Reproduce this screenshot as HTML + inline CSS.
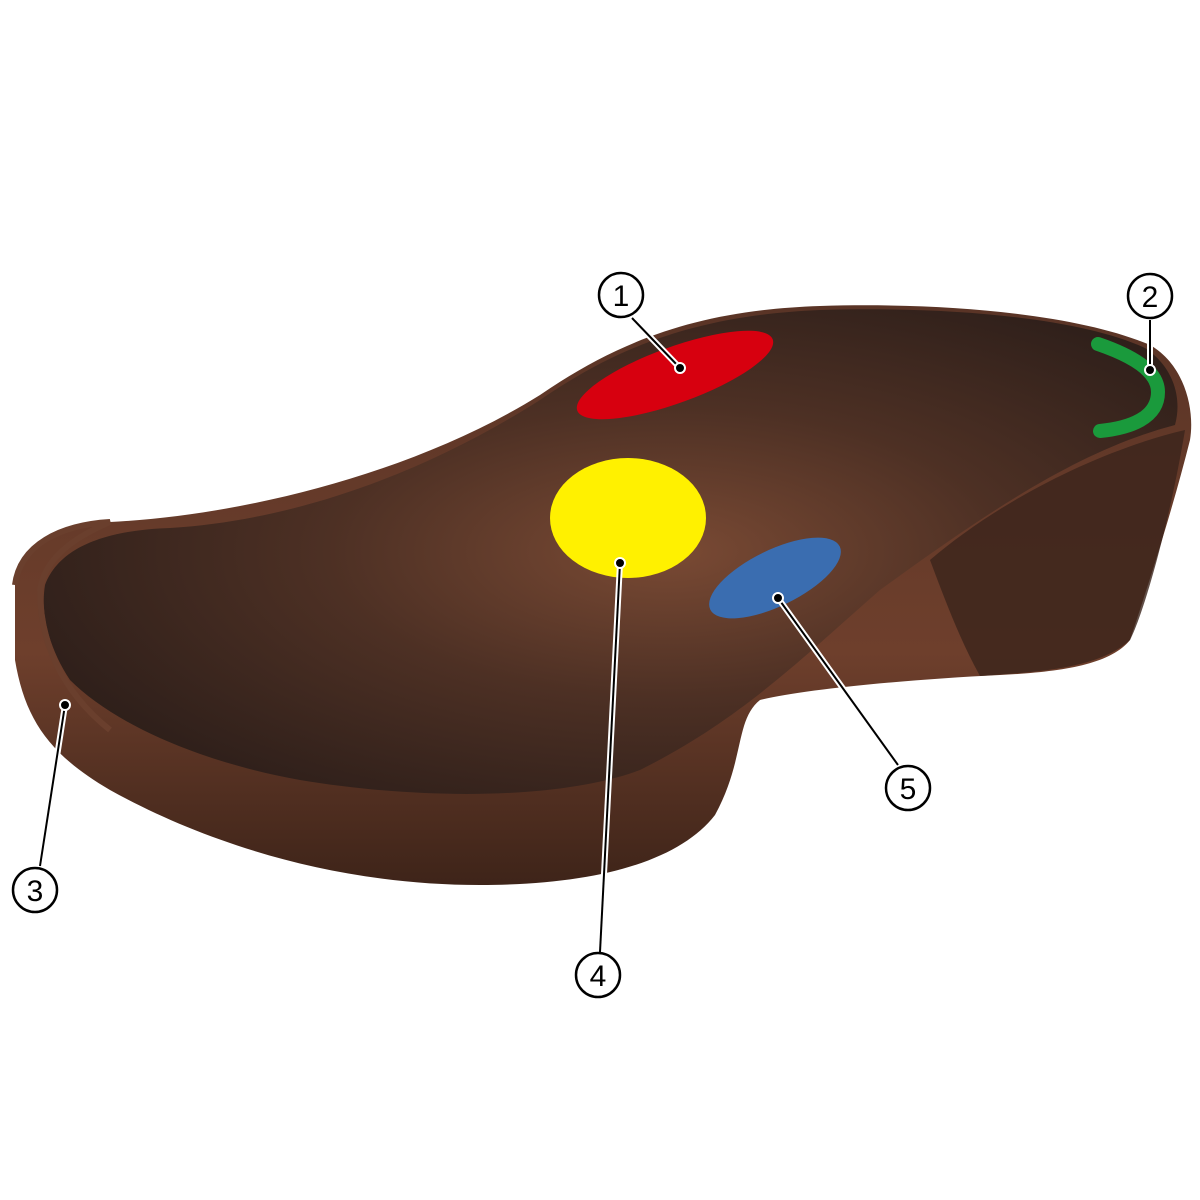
<!DOCTYPE html>
<html><head><meta charset="utf-8"><style>
html,body{margin:0;padding:0;background:#fff;}
svg{display:block}
text{font-family:"Liberation Sans","Noto Sans CJK JP",sans-serif;}
</style></head><body>
<svg width="1200" height="1200" viewBox="0 0 1200 1200" xmlns="http://www.w3.org/2000/svg">
<defs>
<linearGradient id="side" x1="0" y1="0" x2="0" y2="1">
<stop offset="0" stop-color="#5a3426"/><stop offset="0.6" stop-color="#6e3f2c"/><stop offset="1" stop-color="#3e2419"/>
</linearGradient>
<radialGradient id="top" cx="0.55" cy="0.5" r="0.6">
<stop offset="0" stop-color="#7a4a34"/><stop offset="0.5" stop-color="#4d3024"/><stop offset="1" stop-color="#2e1f1a"/>
</radialGradient>
</defs>
<!-- whole sole -->
<path d="M15,585 C20,545 60,525 110,522 C250,515 420,470 540,395 C620,340 700,310 820,306 C950,302 1080,315 1150,345 C1185,365 1195,410 1190,440 C1170,520 1140,610 1130,640 C1110,665 1060,672 1000,675 C900,680 800,690 760,700 C735,720 745,760 715,815 C680,860 600,885 480,885 C330,885 200,840 110,790 C50,755 25,720 15,660 Z" fill="url(#side)"/>
<!-- heel side darker -->
<path d="M930,560 C1000,500 1100,450 1185,430 C1170,520 1145,610 1130,640 C1100,668 1040,672 980,676 C960,640 945,600 930,560 Z" fill="#3b241b" opacity="0.8"/>
<!-- insole top -->
<path d="M45,585 C60,545 110,530 170,528 C300,520 430,470 540,400 C620,345 700,315 820,310 C950,306 1080,318 1145,348 C1175,368 1182,400 1175,425 C1080,450 990,510 880,590 C800,660 740,720 640,770 C560,800 420,800 300,780 C190,760 110,720 70,680 C50,650 40,615 45,585 Z" fill="url(#top)"/>
<!-- rim edge left -->
<path d="M15,585 C20,545 60,525 110,522 C80,535 45,555 40,590 C40,640 60,690 110,730" fill="none" stroke="#6a3f2d" stroke-width="6"/>
<!-- spots -->
<ellipse cx="675" cy="375" rx="104" ry="28" transform="rotate(-20 675 375)" fill="#d7000f"/>
<ellipse cx="628" cy="518" rx="78" ry="60" fill="#fff100"/>
<ellipse cx="775" cy="578" rx="72" ry="28" transform="rotate(-26 775 578)" fill="#3a6db0"/>
<path d="M1098,344 C1130,355 1158,370 1158,392 C1158,418 1130,428 1100,431" fill="none" stroke="#1a9a3c" stroke-width="14" stroke-linecap="round"/>
<!-- leader lines -->
<g stroke="#fff" stroke-width="6" fill="none" stroke-linecap="round">
<line x1="632" y1="318" x2="680" y2="368"/><line x1="1150" y1="320" x2="1150" y2="370"/>
<line x1="65" y1="705" x2="40" y2="866"/><line x1="620" y1="563" x2="600" y2="952"/>
<line x1="778" y1="598" x2="898" y2="765"/>
</g>
<g stroke="#000" stroke-width="2" fill="none">
<line x1="632" y1="318" x2="680" y2="368"/><line x1="1150" y1="320" x2="1150" y2="370"/>
<line x1="65" y1="705" x2="40" y2="866"/><line x1="620" y1="563" x2="600" y2="952"/>
<line x1="778" y1="598" x2="898" y2="765"/>
</g>
<g fill="#000" stroke="#fff" stroke-width="2">
<circle cx="680" cy="368" r="5"/><circle cx="1150" cy="370" r="5"/><circle cx="65" cy="705" r="5"/>
<circle cx="620" cy="563" r="5"/><circle cx="778" cy="598" r="5"/>
</g>
<!-- labels -->
<g fill="#fff" stroke="#000" stroke-width="2.5">
<circle cx="621" cy="295" r="22"/><circle cx="1150" cy="296" r="22"/><circle cx="35" cy="890" r="22"/>
<circle cx="598" cy="975" r="22"/><circle cx="908" cy="788" r="22"/>
</g>
<g font-size="30" text-anchor="middle" fill="#000">
<text x="621" y="306">1</text><text x="1150" y="307">2</text><text x="35" y="901">3</text>
<text x="598" y="986">4</text><text x="908" y="799">5</text>
</g>
</svg>
</body></html>
